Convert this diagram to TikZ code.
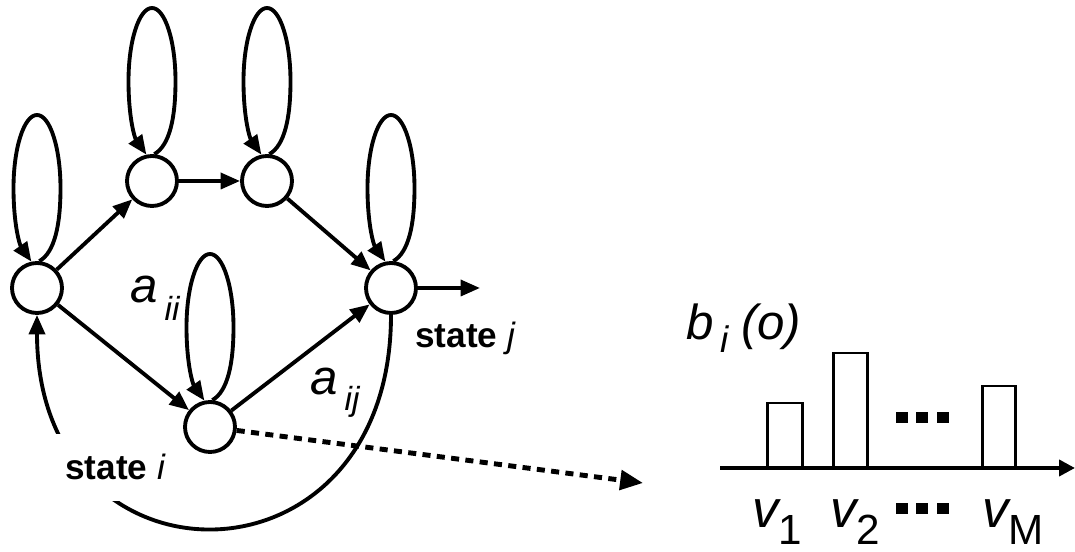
\documentclass[tikz,border=0pt]{standalone}
\usepackage{fontspec}
\setmainfont{Liberation Sans}
\usetikzlibrary{arrows.meta}
\newcommand{\lowsub}[3]{\raisebox{#1}{\fontsize{#2}{#2}\selectfont #3}}
\newcommand{\selfloop}[1]{\draw[arr] (#1.85) .. controls +(30:0.35) and +(0,-0.75) .. ([xshift=0.47cm,yshift=2cm]#1.center)
    .. controls +(0,0.8) and +(0.26,0) .. ([yshift=3.46cm]#1.center)
    .. controls +(-0.26,0) and +(0,0.8) .. ([xshift=-0.47cm,yshift=2cm]#1.center)
    .. controls +(0,-0.75) and +(125:0.4) .. (#1.102);}

\begin{document}
\begin{tikzpicture}[
    st/.style={draw, circle, line width=2.2pt, minimum size=1cm, inner sep=0pt},
    arr/.style={-{Triangle[length=11pt, width=9pt]}, line width=2.2pt},
    dotarr/.style={-{Triangle[length=13pt, width=11pt]}, line width=2.8pt, dash pattern=on 4.6pt off 3.6pt},
    lbl/.style={font=\fontsize{28}{32}\selectfont\itshape, inner sep=0pt, anchor=base west},
    vlbl/.style={font=\fontsize{30}{34}\selectfont\itshape, inner sep=0pt, anchor=base west},
    stlbl/.style={font=\fontsize{20}{24}\selectfont, inner sep=0pt},
    bar/.style={draw, line width=1.7pt, fill=white},
]
\useasboundingbox (0,0) rectangle (21.5,-11.04);

% --- states ---
\node[st] (L)  at (0.74,-5.76) {};
\node[st] (T1) at (3.04,-3.62) {};
\node[st] (T2) at (5.34,-3.62) {};
\node[st] (R)  at (7.82,-5.76) {};
\node[st] (M)  at (4.20,-8.54) {};
\coordinate (Rout) at (9.60,-5.76);
\coordinate (obs) at (12.86,-9.66);

% --- self transitions ---
\selfloop{L}
\selfloop{T1}
\selfloop{T2}
\selfloop{R}
\selfloop{M}

% --- transitions ---
\draw[arr] (L) -- (T1);
\draw[arr] (T1) -- (T2);
\draw[arr] (T2) -- (R);
\draw[arr] (L) -- (M);
\draw[arr] (M) -- (R);
\draw[arr] (R) -- (Rout);
\draw[arr] (R) to[out=-90, in=-90, looseness=2.05] (L);
\draw[dotarr] (M) -- (obs);

% --- labels ---
\node[stlbl, anchor=base, fill=white, inner xsep=6pt, inner ysep=11.5pt] (si) at (2.31,-9.60) {\textbf{state} \textit{i}};
\node[stlbl, anchor=base west] (sj) at (8.30,-6.96) {\textbf{state} \textit{j}};
\node[lbl] (aii) at (2.60,-6.06) {a\hspace{4pt}\lowsub{-10pt}{19}{ii}};
\node[lbl] (aij) at (6.20,-7.90) {a\hspace{4pt}\lowsub{-9pt}{19}{ij}};

% --- output distribution ---
\node[lbl] (bio) at (13.72,-6.80) {b\hspace{4pt}\lowsub{-7pt}{21}{i}\hspace{7pt}(o)};
\coordinate (ax0) at (14.40,-9.36);
\coordinate (ax1) at (21.50,-9.36);
\draw[bar] (15.34,-9.36) rectangle (16.04,-8.06);
\draw[bar] (16.66,-9.36) rectangle (17.34,-7.06);
\draw[bar] (19.64,-9.36) rectangle (20.30,-7.72);
\draw[-{Triangle[length=9pt, width=9pt]}, line width=2.2pt] (ax0) -- (ax1);
\fill (17.92,-8.24) rectangle (18.16,-8.46);
\fill (18.32,-8.24) rectangle (18.56,-8.46);
\fill (18.74,-8.24) rectangle (18.98,-8.46);
\fill (17.92,-10.06) rectangle (18.16,-10.28);
\fill (18.32,-10.06) rectangle (18.56,-10.28);
\fill (18.74,-10.06) rectangle (18.98,-10.28);
\node[vlbl] (v1) at (15.04,-10.56) {v\lowsub{-9.5pt}{24}{\upshape 1}};
\node[vlbl] (v2) at (16.60,-10.56) {v\lowsub{-9.5pt}{24}{\upshape 2}};
\node[vlbl] (vM) at (19.64,-10.56) {v\lowsub{-9.5pt}{24}{\upshape M}};
\end{tikzpicture}
\end{document}
